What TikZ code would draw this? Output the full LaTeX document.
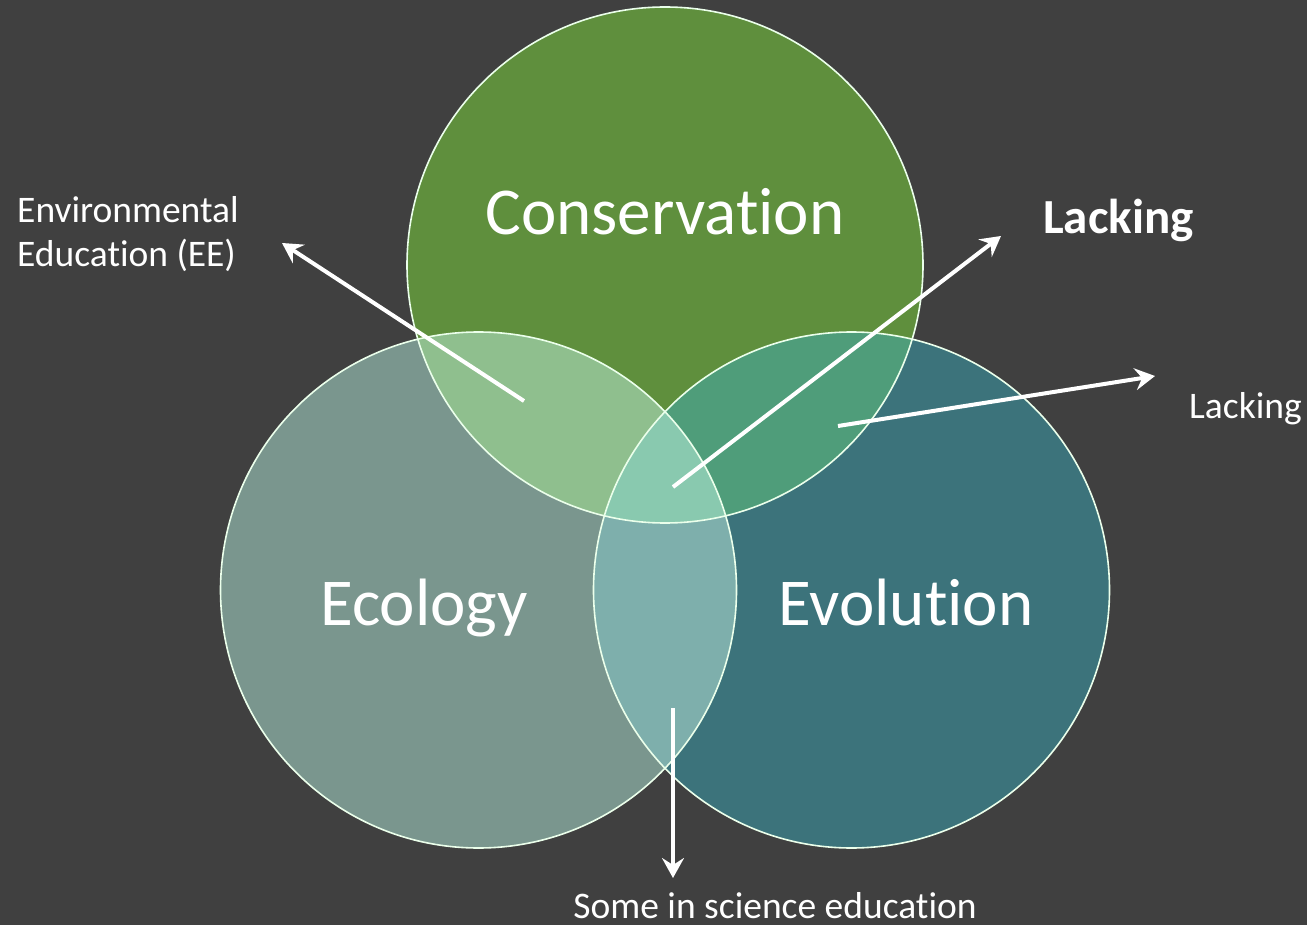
\documentclass[tikz,border=0pt]{standalone}
\usepackage{fontspec}
\setmainfont{Carlito}[Ligatures=NoCommon]
\usetikzlibrary{arrows.meta}
\definecolor{bg}{HTML}{404040}
\definecolor{cons}{HTML}{5F8F3D}
\definecolor{eco}{HTML}{7A968E}
\definecolor{evo}{HTML}{3C737B}
\definecolor{consEco}{HTML}{8FBF8E}
\definecolor{consEvo}{HTML}{4F9D7A}
\definecolor{ecoEvo}{HTML}{7EAFAC}
\definecolor{allthree}{HTML}{89C9AF}
\tikzset{
  ring/.style={draw=white!92!green, line width=1.6pt},
  pointer/.style={draw=white, line width=4pt, -{Stealth[length=20pt,width=22pt,inset=7pt]}},
  big/.style={text=white, font=\fontsize{67}{70}\selectfont, inner sep=0pt},
  small/.style={text=white, font=\fontsize{37.5}{44}\selectfont, inner sep=0pt},
  smallbold/.style={text=white, font=\fontsize{49}{52}\selectfont\bfseries, inner sep=0pt}
}
\begin{document}
\begin{tikzpicture}[x=1pt,y=-1pt]
\fill[bg] (0,0) rectangle (1307,925);
\useasboundingbox (0,0) rectangle (1307,925);
\def\R{258}
\coordinate (cC) at (665,265);
\coordinate (cE) at (478.5,590);
\coordinate (cV) at (851.5,590);
% base fills
\fill[eco] (cE) circle (\R);
\fill[evo] (cV) circle (\R);
\fill[cons] (cC) circle (\R);
% pairwise overlaps
\begin{scope}
  \clip (cC) circle (\R);
  \fill[consEco] (cE) circle (\R);
\end{scope}
\begin{scope}
  \clip (cC) circle (\R);
  \fill[consEvo] (cV) circle (\R);
\end{scope}
\begin{scope}
  \clip (cE) circle (\R);
  \fill[ecoEvo] (cV) circle (\R);
\end{scope}
\begin{scope}
  \clip (cC) circle (\R);
  \clip (cE) circle (\R);
  \fill[allthree] (cV) circle (\R);
\end{scope}
% outlines
\draw[ring] (cE) circle (\R);
\draw[ring] (cV) circle (\R);
\draw[ring] (cC) circle (\R);
% labels
\node[big, anchor=base] (tC) at (665,235) {Conservation};
\node[big, anchor=base] (tE) at (424,625) {Ecology};
\node[big, anchor=base] (tV) at (906,625) {Evolution};
\node[small, anchor=base west, align=left] (tEE) at (17,267) {Environmental\\Education (EE)};
\node[smallbold, anchor=base west] (tL1) at (1043,234) {Lacking};
\node[small, anchor=base west] (tL2) at (1189,418) {Lacking};
\node[small, anchor=base] (tS) at (775,918) {Some in science education};
% arrows
\coordinate (a1s) at (524,401);
\coordinate (a1e) at (282,243);
\coordinate (a2s) at (673,487);
\coordinate (a2e) at (1001,236);
\coordinate (a3s) at (838,426);
\coordinate (a3e) at (1155,376);
\coordinate (a4s) at (673,708);
\coordinate (a4e) at (673,878);
\draw[pointer] (a1s) -- (a1e);
\draw[pointer] (a2s) -- (a2e);
\draw[pointer] (a3s) -- (a3e);
\draw[pointer] (a4s) -- (a4e);
\end{tikzpicture}
\end{document}
